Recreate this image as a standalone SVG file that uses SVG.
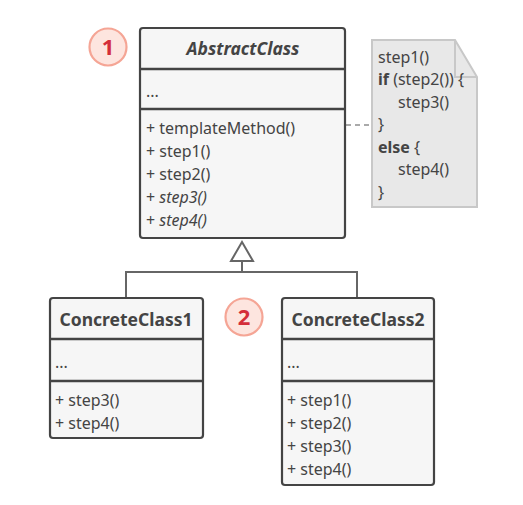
<svg xmlns="http://www.w3.org/2000/svg" width="523" height="505" viewBox="0 0 523 505">
<style>
.box{fill:#f6f6f6;stroke:#444;stroke-width:2.2}
.div{stroke:#444;stroke-width:2.5}
.t{font-family:"Noto Sans","Open Sans",sans-serif;font-size:16px;fill:#444}
.h{font-family:"Noto Sans","Open Sans",sans-serif;font-size:17.5px;font-weight:bold;fill:#444;text-anchor:middle}
.num{font-family:"Noto Sans","Open Sans",sans-serif;font-size:22px;font-weight:bold;fill:#d42e3a;text-anchor:middle}
.badge{fill:#fde5df;stroke:#f5a595;stroke-width:2.2}
.con{fill:none;stroke:#666;stroke-width:2}
.nt{font-family:"Noto Sans","Open Sans",sans-serif;font-size:16px;fill:#444}
</style>
<rect width="523" height="505" fill="#fff"/>
<g id="connectors">
<path class="con" d="M126,298 V272 H357 V298 M242,272 V261"/>
<path d="M242,242 L231,261 H253 Z" fill="#fff" stroke="#666" stroke-width="2"/>
<path d="M346,125 H372" fill="none" stroke="#aaa" stroke-width="2" stroke-dasharray="5,4"/>
</g>
<g id="badge1">
<circle class="badge" cx="108" cy="47" r="18.5"/>
<text class="num" x="108" y="55">1</text>
</g>
<g id="badge2">
<circle class="badge" cx="244" cy="317" r="18.5"/>
<text class="num" x="244" y="325">2</text>
</g>
<g id="AbstractClass">
<rect class="box" x="140" y="28" width="205" height="210" rx="3"/>
<line class="div" x1="140" y1="69" x2="345" y2="69"/>
<line class="div" x1="140" y1="109" x2="345" y2="109"/>
<text class="h" x="243" y="55" font-style="italic">AbstractClass</text>
<text class="t" x="146" y="97">...</text>
<text class="t" x="146" y="134">+ templateMethod()</text>
<text class="t" x="146" y="157">+ step1()</text>
<text class="t" x="146" y="180">+ step2()</text>
<text class="t" x="146" y="203">+ <tspan font-style="italic">step3()</tspan></text>
<text class="t" x="146" y="226">+ <tspan font-style="italic">step4()</tspan></text>
</g>
<g id="note">
<path d="M372,40 H455 L477,77 V207 H372 Z" fill="#e8e8e8" stroke="#c8c8c8" stroke-width="2"/>
<path d="M455,40 V77 H477" fill="none" stroke="#c8c8c8" stroke-width="2"/>
<text class="nt" x="378" y="63">step1()</text>
<text class="nt" x="378" y="85"><tspan font-weight="bold">if</tspan> (step2()) {</text>
<text class="nt" x="398" y="108">step3()</text>
<text class="nt" x="378" y="130">}</text>
<text class="nt" x="378" y="153"><tspan font-weight="bold">else</tspan> {</text>
<text class="nt" x="398" y="175">step4()</text>
<text class="nt" x="378" y="198">}</text>
</g>
<g id="ConcreteClass1">
<rect class="box" x="50" y="298" width="153" height="140" rx="3"/>
<line class="div" x1="50" y1="339" x2="203" y2="339"/>
<line class="div" x1="50" y1="381" x2="203" y2="381"/>
<text class="h" x="126" y="326">ConcreteClass1</text>
<text class="t" x="55" y="368">...</text>
<text class="t" x="55" y="406">+ step3()</text>
<text class="t" x="55" y="429">+ step4()</text>
</g>
<g id="ConcreteClass2">
<rect class="box" x="282" y="298" width="152" height="187" rx="3"/>
<line class="div" x1="282" y1="339" x2="434" y2="339"/>
<line class="div" x1="282" y1="381" x2="434" y2="381"/>
<text class="h" x="358" y="326">ConcreteClass2</text>
<text class="t" x="287" y="368">...</text>
<text class="t" x="287" y="406">+ step1()</text>
<text class="t" x="287" y="429">+ step2()</text>
<text class="t" x="287" y="452">+ step3()</text>
<text class="t" x="287" y="475">+ step4()</text>
</g>
</svg>
